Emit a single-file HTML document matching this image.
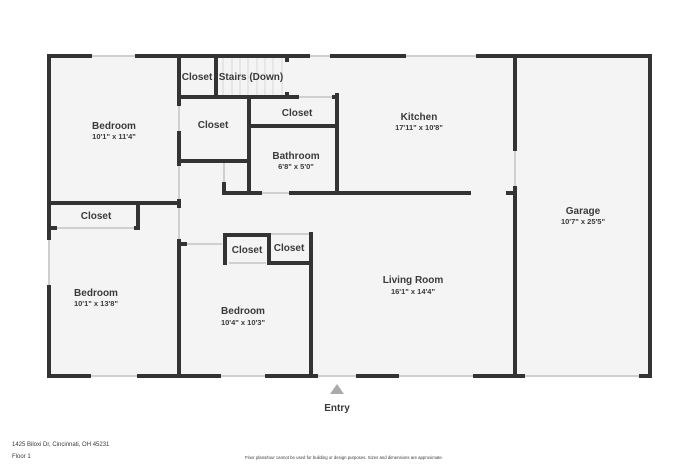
<!DOCTYPE html>
<html><head><meta charset="utf-8"><style>
html,body{margin:0;padding:0;background:#fff;width:700px;height:467px;overflow:hidden}
svg{display:block}
text{font-family:"Liberation Sans",sans-serif;fill:#3a3a3a;text-anchor:middle}
.n{font-size:10px;font-weight:bold}
.d{font-size:7.5px;font-weight:bold}
</style></head><body>
<svg width="700" height="467" viewBox="0 0 700 467">
<rect x="49" y="56" width="601" height="320" fill="#f4f4f4"/>
<g stroke="#d8d8d8" stroke-width="1" fill="none">
<line x1="223" y1="58" x2="223" y2="96"/><line x1="232" y1="58" x2="232" y2="96"/><line x1="240" y1="58" x2="240" y2="96"/><line x1="248" y1="58" x2="248" y2="96"/><line x1="257" y1="58" x2="257" y2="96"/><line x1="265" y1="58" x2="265" y2="96"/><line x1="273" y1="58" x2="273" y2="96"/><line x1="282" y1="58" x2="282" y2="96"/>
</g>
<g stroke="#cfcfcf" stroke-width="2" fill="none">
<line x1="90" y1="56" x2="137" y2="56"/><line x1="310" y1="56" x2="331" y2="56"/><line x1="405" y1="56" x2="477" y2="56"/>
<line x1="49" y1="240" x2="49" y2="285"/>
<line x1="90" y1="376" x2="138" y2="376"/><line x1="220" y1="376" x2="266" y2="376"/><line x1="317" y1="376" x2="357" y2="376"/><line x1="398" y1="376" x2="474" y2="376"/><line x1="524" y1="376" x2="640" y2="376"/>
<line x1="515" y1="150" x2="515" y2="187"/>
<line x1="179" y1="105" x2="179" y2="132"/><line x1="179" y1="165" x2="179" y2="200"/><line x1="179" y1="207" x2="179" y2="240"/>
<line x1="297" y1="97" x2="334" y2="97"/>
<line x1="224" y1="162" x2="224" y2="183"/>
<line x1="261" y1="193" x2="290" y2="193"/>
<line x1="57" y1="228" x2="134" y2="228"/>
<line x1="186" y1="244" x2="222" y2="244"/>
<line x1="229" y1="263" x2="266" y2="263"/>
<line x1="271" y1="234" x2="309" y2="234"/>
</g>
<g stroke="#333" stroke-width="4" fill="none" stroke-linecap="square">
<line x1="49" y1="56" x2="90" y2="56"/><line x1="137" y1="56" x2="308" y2="56"/><line x1="332" y1="56" x2="404" y2="56"/><line x1="478" y1="56" x2="650" y2="56"/>
<line x1="49" y1="56" x2="49" y2="238"/><line x1="49" y1="287" x2="49" y2="376"/>
<line x1="650" y1="56" x2="650" y2="376"/>
<line x1="49" y1="376" x2="89" y2="376"/><line x1="139" y1="376" x2="219" y2="376"/><line x1="267" y1="376" x2="316" y2="376"/><line x1="358" y1="376" x2="397" y2="376"/><line x1="475" y1="376" x2="523" y2="376"/><line x1="641" y1="376" x2="650" y2="376"/>
<line x1="515" y1="56" x2="515" y2="149"/><line x1="515" y1="188" x2="515" y2="376"/><line x1="508" y1="193" x2="515" y2="193"/>
<line x1="179" y1="56" x2="179" y2="104"/><line x1="179" y1="133" x2="179" y2="164"/><line x1="179" y1="201" x2="179" y2="206"/><line x1="179" y1="241" x2="179" y2="376"/>
<line x1="49" y1="203" x2="179" y2="203"/>
<line x1="138" y1="203" x2="138" y2="228"/><line x1="50" y1="228" x2="55" y2="228"/><line x1="136" y1="228" x2="138" y2="228"/>
<line x1="216" y1="56" x2="216" y2="97"/>
<line x1="287" y1="57" x2="287" y2="60"/><line x1="287" y1="94" x2="287" y2="96"/>
<line x1="179" y1="97" x2="297" y2="97"/>
<line x1="337" y1="95" x2="337" y2="193"/><line x1="334" y1="97" x2="337" y2="97"/>
<line x1="249" y1="97" x2="249" y2="193"/>
<line x1="179" y1="161" x2="249" y2="161"/>
<line x1="249" y1="126" x2="337" y2="126"/>
<line x1="224" y1="184" x2="224" y2="193"/><line x1="224" y1="193" x2="260" y2="193"/><line x1="291" y1="193" x2="469" y2="193"/>
<line x1="179" y1="244" x2="185" y2="244"/>
<line x1="225" y1="235" x2="225" y2="263"/><line x1="225" y1="235" x2="269" y2="235"/><line x1="269" y1="235" x2="269" y2="263"/><line x1="269" y1="263" x2="311" y2="263"/>
<line x1="311" y1="234" x2="311" y2="376"/>
</g>
<text class="n" x="114" y="129">Bedroom</text><text class="d" x="114" y="139">10'1" x 11'4"</text>
<text class="n" x="197" y="80">Closet</text><text class="n" x="251" y="80">Stairs (Down)</text>
<text class="n" x="213" y="128">Closet</text><text class="n" x="297" y="116">Closet</text>
<text class="n" x="296" y="159">Bathroom</text><text class="d" x="296" y="169">6'8" x 5'0"</text>
<text class="n" x="419" y="120">Kitchen</text><text class="d" x="419" y="130">17'11" x 10'8"</text>
<text class="n" x="583" y="214">Garage</text><text class="d" x="583" y="224">10'7" x 25'5"</text>
<text class="n" x="96" y="219">Closet</text>
<text class="n" x="96" y="296">Bedroom</text><text class="d" x="96" y="306">10'1" x 13'8"</text>
<text class="n" x="247" y="253">Closet</text><text class="n" x="289" y="251">Closet</text>
<text class="n" x="243" y="314">Bedroom</text><text class="d" x="243" y="325">10'4" x 10'3"</text>
<text class="n" x="413" y="283">Living Room</text><text class="d" x="413" y="294">16'1" x 14'4"</text>
<polygon points="337,384 344,394 330,394" fill="#aaa"/>
<text class="n" x="337" y="411">Entry</text>
<text x="12" y="446" style="font-size:6px;text-anchor:start">1425 Biloxi Dr, Cincinnati, OH 45231</text>
<text x="12" y="458" style="font-size:6px;text-anchor:start">Floor 1</text>
<text x="344" y="459" style="font-size:4.3px">Floor plans/tour cannot be used for building or design purposes. Sizes and dimensions are approximate.</text>
</svg>
</body></html>
